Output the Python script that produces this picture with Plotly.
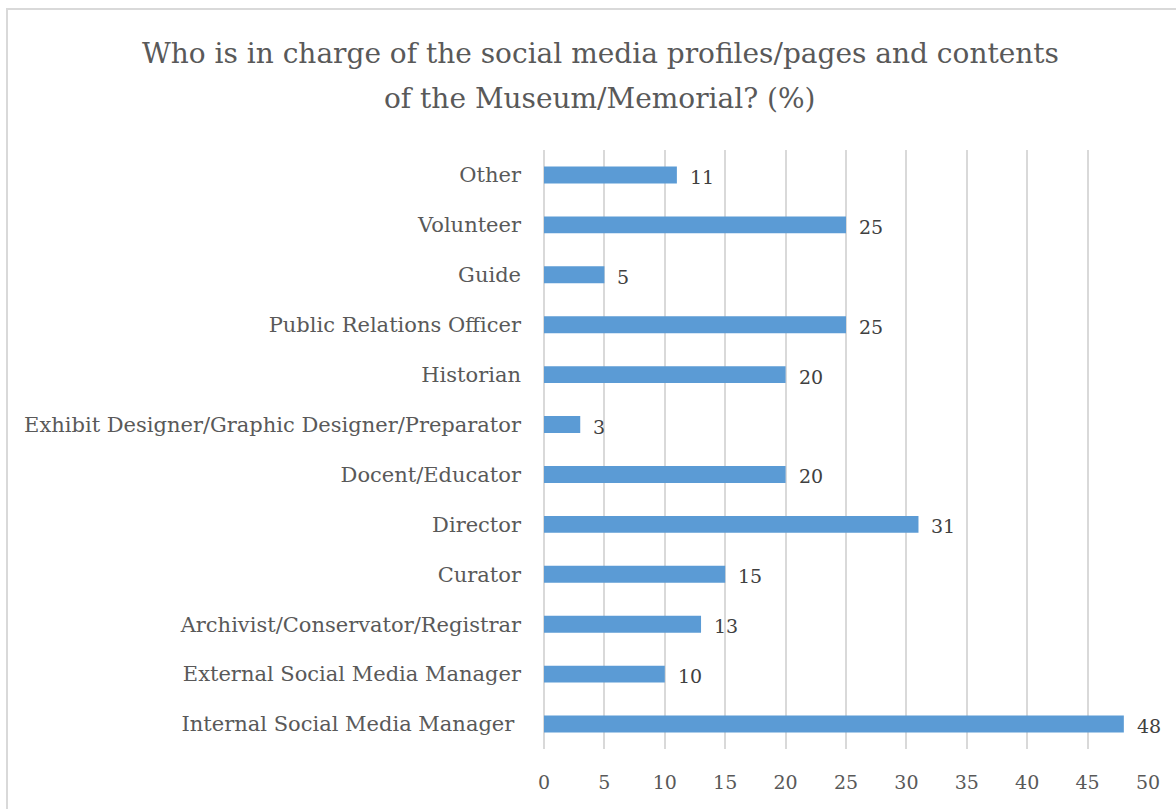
import plotly.graph_objects as go

# Roles responsible for social media, listed bottom-to-top as drawn
roles = [
    "Internal Social Media Manager\u00a0",
    "External Social Media Manager",
    "Archivist/Conservator/Registrar",
    "Curator",
    "Director",
    "Docent/Educator",
    "Exhibit Designer/Graphic Designer/Preparator",
    "Historian",
    "Public Relations Officer",
    "Guide",
    "Volunteer",
    "Other",
]
shares = [48, 10, 13, 15, 31, 20, 3, 20, 25, 5, 25, 11]

x_ticks = [0, 5, 10, 15, 20, 25, 30, 35, 40, 45, 50]

title_lines = [
    "Who is in charge of the social media profiles/pages and contents",
    "of the Museum/Memorial? (%)",
]

FONT = "DejaVu Serif"
BAR_COLOR = "#5B9BD5"
GRID = "#D9D9D9"

W, H = 1176, 809
ML, MR, MT, MB = 544, 28, 150, 60
plot_w = W - ML - MR
plot_h = H - MT - MB


def px_to_paper_x(px):
    return (px - ML) / plot_w


def px_to_paper_y(py):
    return (H - MB - py) / plot_h


fig = go.Figure(
    go.Bar(
        x=shares,
        y=roles,
        orientation="h",
        marker=dict(color=BAR_COLOR, line=dict(width=0)),
        hoverinfo="x+y",
    )
)

# value labels to the right of each bar
for r, v in zip(roles, shares):
    fig.add_annotation(
        x=v, y=r, xref="x", yref="y",
        text=str(v), showarrow=False,
        xanchor="left", yanchor="middle",
        xshift=11, yshift=-2,
        font=dict(family=FONT, size=19, color="#404040"),
    )

# two-line chart title
for line, py in zip(title_lines, [54, 99]):
    fig.add_annotation(
        x=px_to_paper_x(600), y=px_to_paper_y(py),
        xref="paper", yref="paper",
        text=line, showarrow=False,
        xanchor="center", yanchor="middle",
        font=dict(family=FONT, size=28, color="#595959"),
    )

# chart-area border
fig.add_shape(
    type="rect", xref="paper", yref="paper",
    x0=px_to_paper_x(7), x1=px_to_paper_x(W + 40),
    y0=px_to_paper_y(H + 40), y1=px_to_paper_y(9),
    line=dict(color=GRID, width=2), fillcolor="rgba(0,0,0,0)",
    layer="below",
)

fig.update_layout(
    width=W, height=H,
    margin=dict(l=ML, r=MR, t=MT, b=MB, autoexpand=False),
    paper_bgcolor="white", plot_bgcolor="white",
    bargap=0.66,
    showlegend=False,
    font=dict(family=FONT, color="#595959"),
    xaxis=dict(
        range=[0, 50],
        tickvals=x_ticks,
        ticktext=[str(t) for t in x_ticks],
        showgrid=True, gridcolor=GRID, gridwidth=1.5,
        zeroline=True, zerolinecolor=GRID, zerolinewidth=1.5,
        showline=False, ticks="",
        ticklabelstandoff=20,
        tickfont=dict(family=FONT, size=19, color="#595959"),
        fixedrange=True,
    ),
    yaxis=dict(
        categoryorder="array", categoryarray=roles,
        showgrid=False, zeroline=False, showline=False, ticks="",
        ticklabelstandoff=22,
        tickfont=dict(family=FONT, size=21, color="#595959"),
        fixedrange=True,
    ),
)

fig.write_html("out.html")
